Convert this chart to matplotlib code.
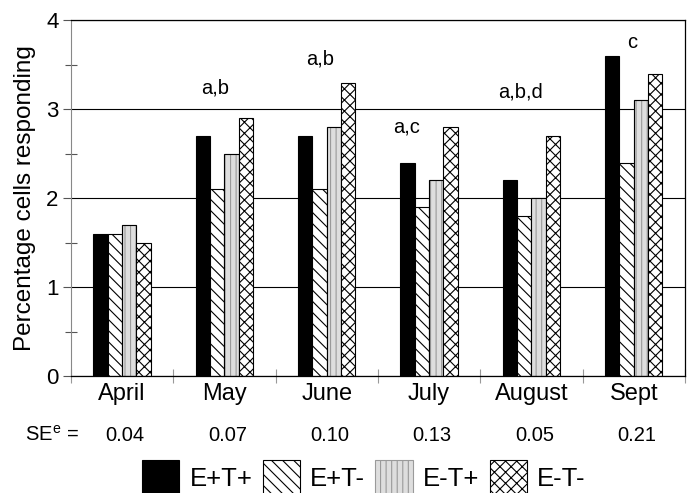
import numpy as np
import matplotlib
matplotlib.use("Agg")
import matplotlib.pyplot as plt
from matplotlib.transforms import blended_transform_factory

plt.rcParams["font.family"] = ["Liberation Sans", "DejaVu Sans"]
plt.rcParams["mathtext.fontset"] = "custom"
plt.rcParams["mathtext.rm"] = "Liberation Sans"
plt.rcParams["hatch.linewidth"] = 0.8

# -------------------------------------------------
# Data
# -------------------------------------------------

months = ["April", "May", "June", "July", "August", "Sept"]
series_names = ["E+T+", "E+T-", "E-T+", "E-T-"]
e_pos_t_pos = [1.6, 2.7, 2.7, 2.4, 2.2, 3.6]
e_pos_t_neg = [1.6, 2.1, 2.1, 1.9, 1.8, 2.4]
e_neg_t_pos = [1.7, 2.5, 2.8, 2.2, 2.0, 3.1]
e_neg_t_neg = [1.5, 2.9, 3.3, 2.8, 2.7, 3.4]
se_values = ["0.04", "0.07", "0.10", "0.13", "0.05", "0.21"]

letters = ["a,b", "a,b", "a,c", "a,b,d", "c"]
letter_x = [0.91, 1.94, 2.78, 3.89, 4.99]
letter_y = [3.24, 3.56, 2.80, 3.19, 3.75]

# -------------------------------------------------
# Figure
# -------------------------------------------------

fig = plt.figure(figsize=(6.89, 4.93), dpi=100)
ax = fig.add_axes([0.103, 0.237, 0.891, 0.722])

x = np.arange(len(months))
w = 0.14
series = [e_pos_t_pos, e_pos_t_neg, e_neg_t_pos, e_neg_t_neg]
styles = [
    dict(color="black", edgecolor="black"),
    dict(color="white", edgecolor="black", hatch="\\\\\\"),
    dict(color="#dedede", edgecolor="#9a9a9a", hatch="|||"),
    dict(color="white", edgecolor="black", hatch="xxx"),
]

handles = []
for i, (vals, st) in enumerate(zip(series, styles)):
    pos = x + (i - 1.5) * w
    b = ax.bar(pos, vals, w, linewidth=0.8, label=series_names[i], **st)
    handles.append(b)
    if i == 2:
        # dark outline on the light bars
        ax.bar(pos, vals, w, fill=False, edgecolor="black", linewidth=0.8)

# significance letters
for t, lx, ly in zip(letters, letter_x, letter_y):
    ax.text(lx, ly, t, ha="center", va="center", fontsize=14.5)

# axes styling
ax.set_xlim(-0.5, 5.5)
ax.set_ylim(0, 4)
ax.set_yticks([0, 1, 2, 3, 4])
ax.set_yticks([0.5, 1.5, 2.5, 3.5], minor=True)
ax.set_xticks(x)
ax.set_xticklabels(months, fontsize=17)
ax.set_xticks(np.arange(-0.5, 6, 1), minor=True)
ax.tick_params(axis="x", which="major", length=0, pad=5)
ax.tick_params(axis="x", which="minor", direction="inout", length=10,
               color="#999999", width=0.8)
ax.tick_params(axis="y", which="major", labelsize=16, length=6, width=0.8,
               pad=3, color="#555555")
ax.tick_params(axis="y", which="minor", direction="inout", length=8,
               width=0.8, color="#555555")

ax.set_axisbelow(True)
ax.yaxis.grid(True, color="black", linewidth=0.8)
ax.spines["left"].set_color("#888888")
ax.spines["left"].set_linewidth(0.8)
for s in ["top", "right", "bottom"]:
    ax.spines[s].set_color("black")
    ax.spines[s].set_linewidth(0.9)

ax.set_ylabel("Percentage cells responding", fontsize=17.5, labelpad=7)

# SE row
trans = blended_transform_factory(ax.transData, ax.transAxes)
for i, se in enumerate(se_values):
    ax.text(i + 0.03, -0.166, se, transform=trans, ha="center", va="center",
            fontsize=14.5)
fig.text(52 / 689, 1 - 435 / 493, "SE$^{\\mathrm{e}}$ =", ha="center",
         va="center", fontsize=14.5)

# legend
fig.legend(handles=handles, labels=series_names, loc="center",
           bbox_to_anchor=(0.528, 0.032), ncol=4, frameon=False,
           fontsize=18.5, handlelength=1.45, handleheight=1.7,
           handletextpad=0.4, columnspacing=0.4, borderpad=0)

fig.savefig("out.png", dpi=100)
